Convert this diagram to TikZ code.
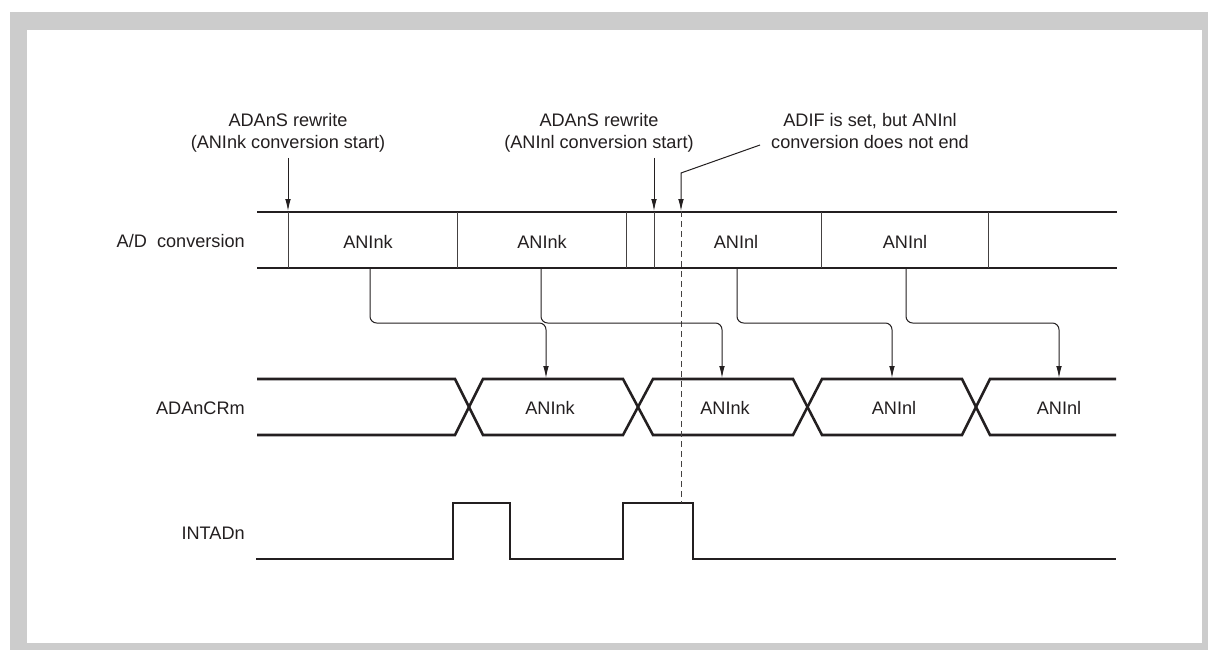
\documentclass[tikz,border=0pt]{standalone}
\usepackage{fontspec}
\setmainfont{Liberation Sans}
\usetikzlibrary{arrows.meta}
\definecolor{frame}{HTML}{CCCCCC}
\definecolor{ink}{HTML}{231F20}
\newcommand{\sigfont}{\fontsize{13.6}{16.5}\selectfont}
\tikzset{bus/.style={draw=ink,line width=1.9pt},thin/.style={draw=ink!85,line width=0.75pt},
 arr/.style={-{Latex[length=9pt,width=4.2pt]},line width=0.75pt,draw=ink},
 sig/.style={anchor=base east,inner sep=0pt,font=\sigfont,text=ink},
 slot/.style={anchor=base,inner sep=0pt,font=\sigfont,text=ink},
 note/.style={anchor=base,align=center,inner xsep=0pt,inner ysep=4pt,font=\sigfont,text=ink}}

\begin{document}
\begin{tikzpicture}[x=0.75pt,y=-0.75pt]
\useasboundingbox (0,0) rectangle (1208,650);
\fill[frame] (10,12) rectangle (1208,650);
\fill[white] (27,30) rectangle (1202,643);
% signal names
\node[sig] (lad) at (245,247) {A/D\ \ conversion};
\node[sig] (lcr) at (245,414) {ADAnCRm};
\node[sig] (lint) at (245,539) {INTADn};
% A/D conversion
\draw[bus] (257,212) -- (1117,212);
\draw[bus] (257,268) -- (1117,268);
\draw[thin] (288,212) -- (288,268) (457,212) -- (457,268) (626,212) -- (626,268)
 (654,212) -- (654,268) (821,212) -- (821,268) (988,212) -- (988,268);
\node[slot] (ak1) at (368,248) {ANInk};
\node[slot] (ak2) at (542,248) {ANInk};
\node[slot] (al1) at (736,248) {ANInl};
\node[slot] (al2) at (905,248) {ANInl};
% ADAnCRm
\draw[bus] (257,379) -- (455,379) -- (483,435) -- (623,435) -- (653,379) -- (793,379)
 -- (822,435) -- (962,435) -- (990,379) -- (1116,379);
\draw[bus] (257,435) -- (455,435) -- (483,379) -- (623,379) -- (653,435) -- (793,435)
 -- (822,379) -- (962,379) -- (990,435) -- (1116,435);
\node[slot] (ck1) at (550,414) {ANInk};
\node[slot] (ck2) at (725,414) {ANInk};
\node[slot] (cl1) at (894,414) {ANInl};
\node[slot] (cl2) at (1059,414) {ANInl};
% INTADn
\draw[bus] (256,559) -- (453,559) -- (453,503) -- (510,503) -- (510,559) -- (623,559)
 -- (623,503) -- (693,503) -- (693,559) -- (1116,559);
% notes
\node[note] (nrw1) at (288,148.5) {ADAnS rewrite\\(ANInk conversion start)};
\node[note] (nrw2) at (599,148.5) {ADAnS rewrite\\(ANInl conversion start)};
\node[note] (nadif) at (870,148.5) {ADIF is set, but ANInl\\conversion does not end};
\coordinate (s1) at (288,211);
\coordinate (s2) at (654,211);
\coordinate (s3) at (681,211);
\coordinate (j) at (760,145);
\coordinate (k) at (681,173);
\coordinate (hi) at (0,503);
\coordinate (h) at (0,323);
\draw[arr] (nrw1.south) -- (s1);
\draw[arr] (nrw2.south -| s2) -- (s2);
\draw[arr] (j) -- (k) -- (s3);
\draw[thin,dash pattern=on 4.5pt off 3pt] (s3) -- (s3 |- hi);
% data transfer
\coordinate (e1) at (370,268);
\coordinate (e2) at (541,268);
\coordinate (e3) at (737,268);
\coordinate (e4) at (906,268);
\coordinate (r1) at (546,378);
\coordinate (r2) at (722,378);
\coordinate (r3) at (892,378);
\coordinate (r4) at (1059,378);
\draw[arr,rounded corners=5pt] (e1) |- (r1 |- h) -- (r1);
\draw[arr,rounded corners=5pt] (e2) |- (r2 |- h) -- (r2);
\draw[arr,rounded corners=5pt] (e3) |- (r3 |- h) -- (r3);
\draw[arr,rounded corners=5pt] (e4) |- (r4 |- h) -- (r4);
\end{tikzpicture}
\end{document}
